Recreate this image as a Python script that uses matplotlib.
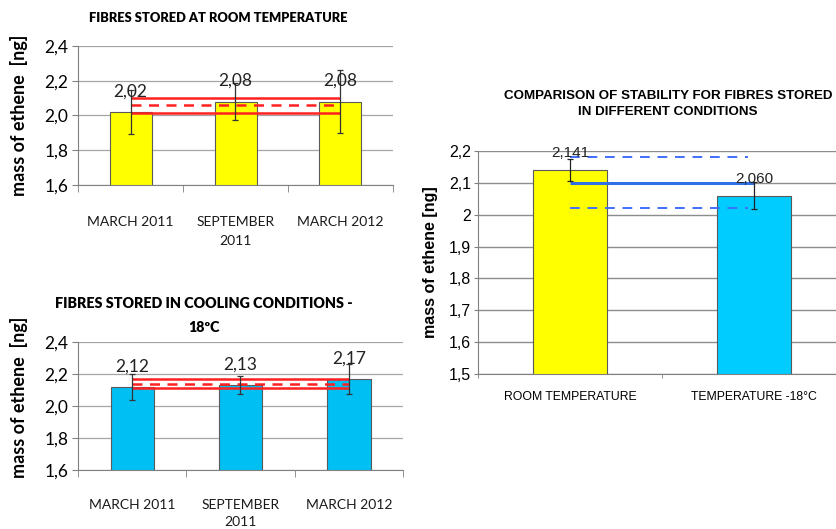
import matplotlib.pyplot as plt
from matplotlib.ticker import FuncFormatter, FixedLocator

# values
months = ['MARCH 2011', 'SEPTEMBER\n2011', 'MARCH 2012']
room_mass = [2.02, 2.08, 2.08]
room_err = [0.124, 0.107, 0.18]
room_band = [2.016, 2.06, 2.10]  # lower, mean, upper

cool_mass = [2.12, 2.13, 2.17]
cool_err = [0.082, 0.055, 0.095]
cool_band = [2.113, 2.14, 2.167]

conditions = ['ROOM TEMPERATURE', 'TEMPERATURE -18°C']
comp_mass = [2.141, 2.060]
comp_err = [0.035, 0.042]
comp_band = [2.02, 2.10, 2.18]

YELLOW = '#FFFF00'
BLUE_L = '#00BFF3'
BLUE_R = '#00CCFF'
GRID = '#A6A6A6'

W, H = 837, 529
fig = plt.figure(figsize=(W / 100, H / 100), dpi=100)


def box(x0, y0, x1, y1):
    # pixel box -> figure fraction
    return [x0 / W, (H - y1) / H, (x1 - x0) / W, (y1 - y0) / H]


def small_chart(pos, mass, err, band, color, pad, lsp):
    ax = fig.add_axes(pos)
    x = range(len(mass))
    ax.bar(x, mass, width=0.4, color=color, edgecolor='#5a5a5a', linewidth=0.8, zorder=2)
    ax.errorbar(x, mass, yerr=err, fmt='none', ecolor='#333333', elinewidth=0.9,
                capsize=2.5, capthick=0.9, zorder=4)
    ax.hlines([band[0], band[2]], 0, len(mass) - 1, color='#FF2020', lw=1.8, zorder=3)
    ax.hlines(band[1], 0, len(mass) - 1, color='#FF2020', lw=1.8, linestyles=(0, (4, 3)), zorder=3)
    for xi, v in zip(x, mass):
        ax.annotate(f'{v:.2f}'.replace('.', ','), (xi, v), xytext=(0, 9),
                    textcoords='offset points', ha='center', va='bottom',
                    fontsize=12.5, family='Lato', color='#222222', zorder=5)
    ax.set_xlim(-0.5, len(mass) - 0.5)
    ax.set_ylim(1.6, 2.4)
    ax.set_yticks([1.6, 1.8, 2.0, 2.2, 2.4])
    ax.yaxis.set_major_formatter(FuncFormatter(lambda v, p: f'{v:.1f}'.replace('.', ',')))
    ax.set_xticks(list(x))
    ax.set_xticklabels(months, fontsize=10, family='Lato', linespacing=lsp, color='#1a1a1a')
    ax.xaxis.set_minor_locator(FixedLocator([i - 0.5 for i in range(len(mass) + 1)]))
    ax.tick_params(axis='x', which='major', length=0, pad=pad)
    ax.tick_params(axis='x', which='minor', length=5, color='#808080', direction='out')
    ax.tick_params(axis='y', length=4, color='#808080', labelsize=12.5, pad=3)
    for lab in ax.get_yticklabels():
        lab.set_family('Lato')
    ax.grid(axis='y', color=GRID, lw=0.9, zorder=0)
    for s in ['top', 'right']:
        ax.spines[s].set_visible(False)
    for s in ['left', 'bottom']:
        ax.spines[s].set_color('#808080')
    ax.set_ylabel('mass of ethene  [ng]', fontsize=13, family='Lato', fontweight='bold')
    return ax


ax1 = small_chart(box(78, 46, 393, 185), room_mass, room_err, room_band, YELLOW, 22, 1.7)
ax1.yaxis.set_label_coords(-0.16, 0.5)
fig.text(218 / W, 1 - 18 / H, 'FIBRES STORED AT ROOM TEMPERATURE', ha='center', va='center',
         fontsize=9.3, family='Lato', fontweight='heavy')

ax2 = small_chart(box(78, 342, 403, 470), cool_mass, cool_err, cool_band, BLUE_L, 21, 1.45)
ax2.yaxis.set_label_coords(-0.155, 0.57)
fig.text(204 / W, 1 - 315 / H, 'FIBRES STORED IN COOLING CONDITIONS -\n18ºC', ha='center',
         va='center', fontsize=10.3, family='Lato', fontweight='heavy', linespacing=2.0)

# comparison chart (right edge runs off the picture as in the reference)
ax3 = fig.add_axes(box(478, 151, 846, 374))
xc = range(len(comp_mass))
ax3.bar(xc, comp_mass, width=0.4, color=[YELLOW, BLUE_R], edgecolor='#5a5a5a', linewidth=0.8,
        zorder=2)
ax3.errorbar(xc, comp_mass, yerr=comp_err, fmt='none', ecolor='#222222', elinewidth=0.9,
             capsize=2.5, capthick=0.9, zorder=4)
ax3.hlines(comp_band[1], 0, 1, color='#2F6FE8', lw=2.2, zorder=3)
ax3.hlines([comp_band[0], comp_band[2]], 0, 0.97, color='#3F6FFF', lw=1.4,
           linestyles=(0, (5, 4)), zorder=3)
for xi, v in zip(xc, comp_mass):
    ax3.annotate(f'{v:.3f}'.replace('.', ','), (xi, v), xytext=(0, 7),
                 textcoords='offset points', ha='center', va='bottom',
                 fontsize=11, family='Liberation Sans', color='#222222', zorder=5)
ax3.set_xlim(-0.5, 1.5)
ax3.set_ylim(1.5, 2.2)
ax3.set_yticks([1.5, 1.6, 1.7, 1.8, 1.9, 2.0, 2.1, 2.2])
ax3.yaxis.set_major_formatter(FuncFormatter(lambda v, p: f'{round(v, 1):g}'.replace('.', ',')))
ax3.set_xticks(list(xc))
ax3.set_xticklabels(conditions, fontsize=8.8, family='Liberation Sans')
ax3.xaxis.set_minor_locator(FixedLocator([-0.5, 0.5, 1.5]))
ax3.tick_params(axis='x', which='major', length=0, pad=12)
ax3.tick_params(axis='x', which='minor', length=3, color='#808080', direction='out')
ax3.tick_params(axis='y', length=3, color='#808080', labelsize=11.5, pad=2)
for lab in ax3.get_yticklabels():
    lab.set_family('Liberation Sans')
ax3.grid(axis='y', color='#8c8c8c', lw=1.0, zorder=0)
for s in ['top', 'right']:
    ax3.spines[s].set_visible(False)
for s in ['left', 'bottom']:
    ax3.spines[s].set_color('#808080')
ax3.set_ylabel('mass of ethene [ng]', fontsize=11.5, family='Liberation Sans', fontweight='bold')
ax3.yaxis.set_label_coords(-0.109, 0.5)
fig.text(668 / W, 1 - 104 / H, 'COMPARISON OF STABILITY FOR FIBRES STORED\nIN DIFFERENT CONDITIONS',
         ha='center', va='center', fontsize=9.6, family='Liberation Sans', fontweight='bold',
         linespacing=1.5)

fig.savefig('out.png', dpi=100)
